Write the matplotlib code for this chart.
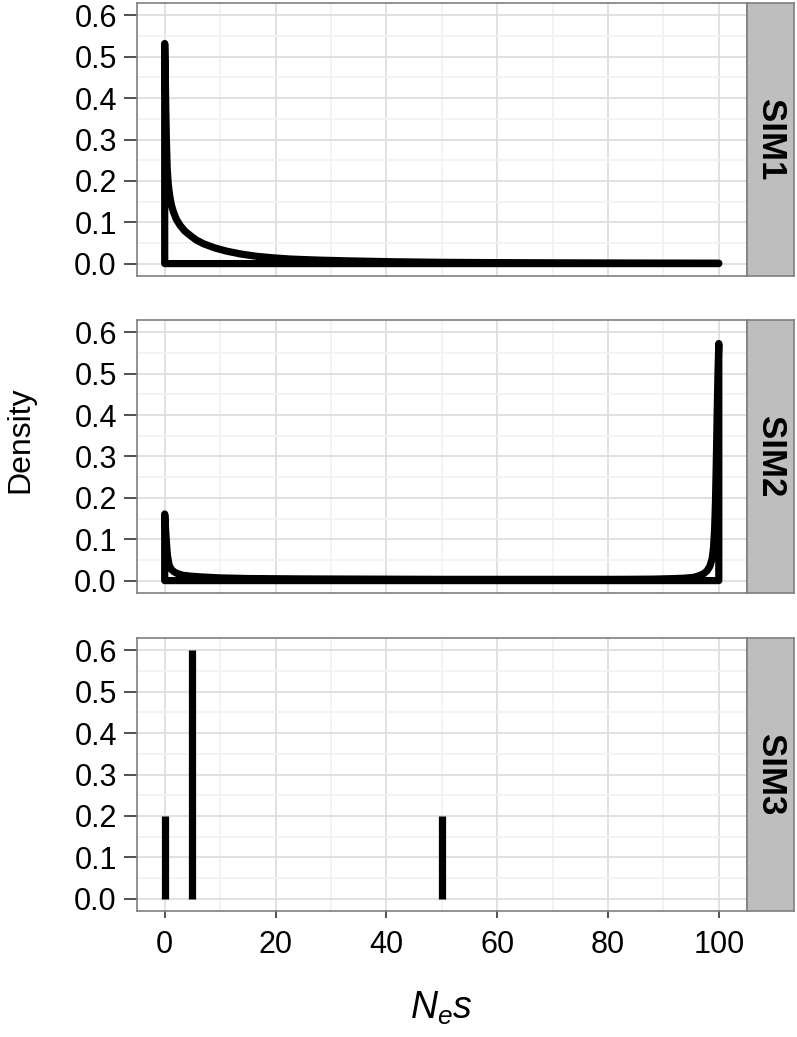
import numpy as np
import matplotlib.pyplot as plt

plt.rcParams['font.family'] = ['Liberation Sans', 'DejaVu Sans']
plt.rcParams['mathtext.fontset'] = 'custom'
plt.rcParams['mathtext.it'] = 'Liberation Sans:italic'
plt.rcParams['mathtext.rm'] = 'Liberation Sans'

# SIM1 density outline
sim1_x = [0, 0.1, 0.2, 0.3, 0.45, 0.65, 0.9, 1.2, 1.6, 2.1, 2.8, 3.6, 4.6, 5.7, 7.0,
          9.0, 11.2, 13.8, 16.6, 19.5, 22.6, 27.5, 33.3, 41, 50, 60, 70, 85, 100]
sim1_y = [0.532, 0.46, 0.37, 0.30, 0.23, 0.19, 0.164, 0.142, 0.124, 0.107, 0.092, 0.079,
          0.068, 0.057, 0.048, 0.038, 0.030, 0.023, 0.0176, 0.014, 0.011, 0.0085, 0.0065,
          0.0045, 0.003, 0.0023, 0.0018, 0.0013, 0.001]

# SIM2 density outline
sim2_x = [0, 0.1, 0.2, 0.35, 0.5, 0.8, 1.2, 1.7, 2.3, 3.2, 4.5, 6.4, 10, 15, 25, 50,
          82, 88, 92, 94, 95.5, 96.5, 97.3, 97.9, 98.4, 98.8, 99.05, 99.25, 99.4, 99.55,
          99.7, 99.85, 100]
sim2_y = [0.161, 0.14, 0.115, 0.085, 0.06, 0.037, 0.027, 0.021, 0.017, 0.013, 0.011,
          0.009, 0.0065, 0.005, 0.004, 0.003, 0.003, 0.0035, 0.0048, 0.006, 0.008, 0.012,
          0.017, 0.024, 0.035, 0.053, 0.08, 0.125, 0.19, 0.285, 0.40, 0.50, 0.573]

# SIM3 point masses
sim3_x = [0, 5, 50]
sim3_y = [0.2, 0.6, 0.2]

panels = ['SIM1', 'SIM2', 'SIM3']
y_ticks = [0.0, 0.1, 0.2, 0.3, 0.4, 0.5, 0.6]
x_ticks = [0, 20, 40, 60, 80, 100]

W, H = 797, 1037
fig = plt.figure(figsize=(W / 100, H / 100), dpi=100)

left, right = 137, 746.5
strip_w = 47
tops = [3, 320, 638]
ph = 273

axes = []
for i, name in enumerate(panels):
    t = tops[i]
    ax = fig.add_axes([left / W, 1 - (t + ph) / H, (right - left) / W, ph / H])
    ax.set_xlim(-5, 105)
    ax.set_ylim(-0.03, 0.63)
    ax.set_xticks(x_ticks)
    ax.set_xticks([10, 30, 50, 70, 90], minor=True)
    ax.set_yticks(y_ticks)
    ax.set_yticks([0.05, 0.15, 0.25, 0.35, 0.45, 0.55], minor=True)
    ax.set_yticklabels(['%.1f' % v for v in y_ticks])
    ax.grid(which='major', color='#DEDEDE', lw=1.3)
    ax.grid(which='minor', color='#F2F2F2', lw=1.3)
    ax.set_axisbelow(True)
    for s in ax.spines.values():
        s.set_color('#7F7F7F')
        s.set_linewidth(1.2)
    ax.tick_params(axis='y', which='major', length=9.5, width=1.1, color='#222222',
                   labelsize=22, pad=5, labelcolor='black')
    ax.tick_params(axis='x', which='major', length=5, width=1.1, color='#222222',
                   labelsize=22, pad=9, labelcolor='black')
    ax.tick_params(which='minor', length=0)
    if i < 2:
        ax.tick_params(axis='x', which='major', length=0, labelbottom=False)

    sax = fig.add_axes([right / W, 1 - (t + ph) / H, strip_w / W, ph / H])
    sax.set_facecolor('#BEBEBE')
    sax.set_xticks([])
    sax.set_yticks([])
    for s in sax.spines.values():
        s.set_color('#7F7F7F')
        s.set_linewidth(1.2)
    sax.text(0.5, 0.5, name, rotation=-90, ha='center', va='center', fontsize=25,
             fontweight='bold', transform=sax.transAxes)
    axes.append(ax)

# density outlines: curve, down to baseline, back to zero
for ax, xs, ys in [(axes[0], sim1_x, sim1_y), (axes[1], sim2_x, sim2_y)]:
    px = list(xs) + [100, 0]
    py = list(ys) + [0, 0]
    ax.fill(px, py, facecolor='none', edgecolor='black', lw=5.2, joinstyle='round')

axes[2].vlines(sim3_x, 0, sim3_y, color='black', lw=5.2, capstyle='butt')

fig.text(20 / W, 1 - 440 / H, 'Density', rotation=90, ha='center', va='center', fontsize=23)
fig.text((left + right) / 2 / W, 1 - 1008 / H, r'$N_e s$', ha='center', va='center', fontsize=27)

fig.savefig('out.png', dpi=100)
